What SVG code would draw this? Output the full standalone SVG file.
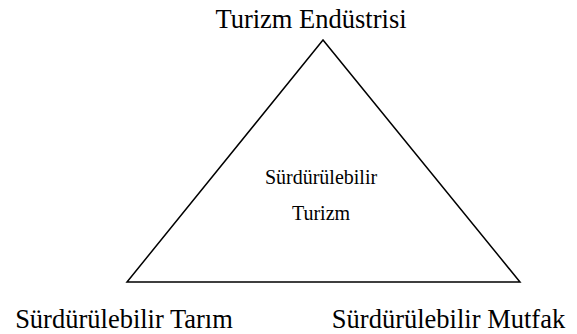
<svg xmlns="http://www.w3.org/2000/svg" width="577" height="334" viewBox="0 0 577 334">
<style>
text{font-family:"Liberation Serif","Times New Roman",serif;fill:#000;text-anchor:middle}
.big{font-size:26.5px}
.mid{font-size:20px}
.edge{stroke:#000;stroke-width:1.5;fill:none}
</style>
<rect width="577" height="334" fill="#fff"/>
<g id="connectors">
<polygon class="edge" points="323,40 127,282 520,282"/>
</g>
<g id="node-top"><text class="big" x="311" y="28">Turizm Endüstrisi</text></g>
<g id="node-center"><text class="mid" x="321" y="184">Sürdürülebilir</text><text class="mid" x="321" y="220">Turizm</text></g>
<g id="node-left"><text class="big" x="124" y="328">Sürdürülebilir Tarım</text></g>
<g id="node-right"><text class="big" x="448.5" y="328">Sürdürülebilir Mutfak</text></g>
</svg>
